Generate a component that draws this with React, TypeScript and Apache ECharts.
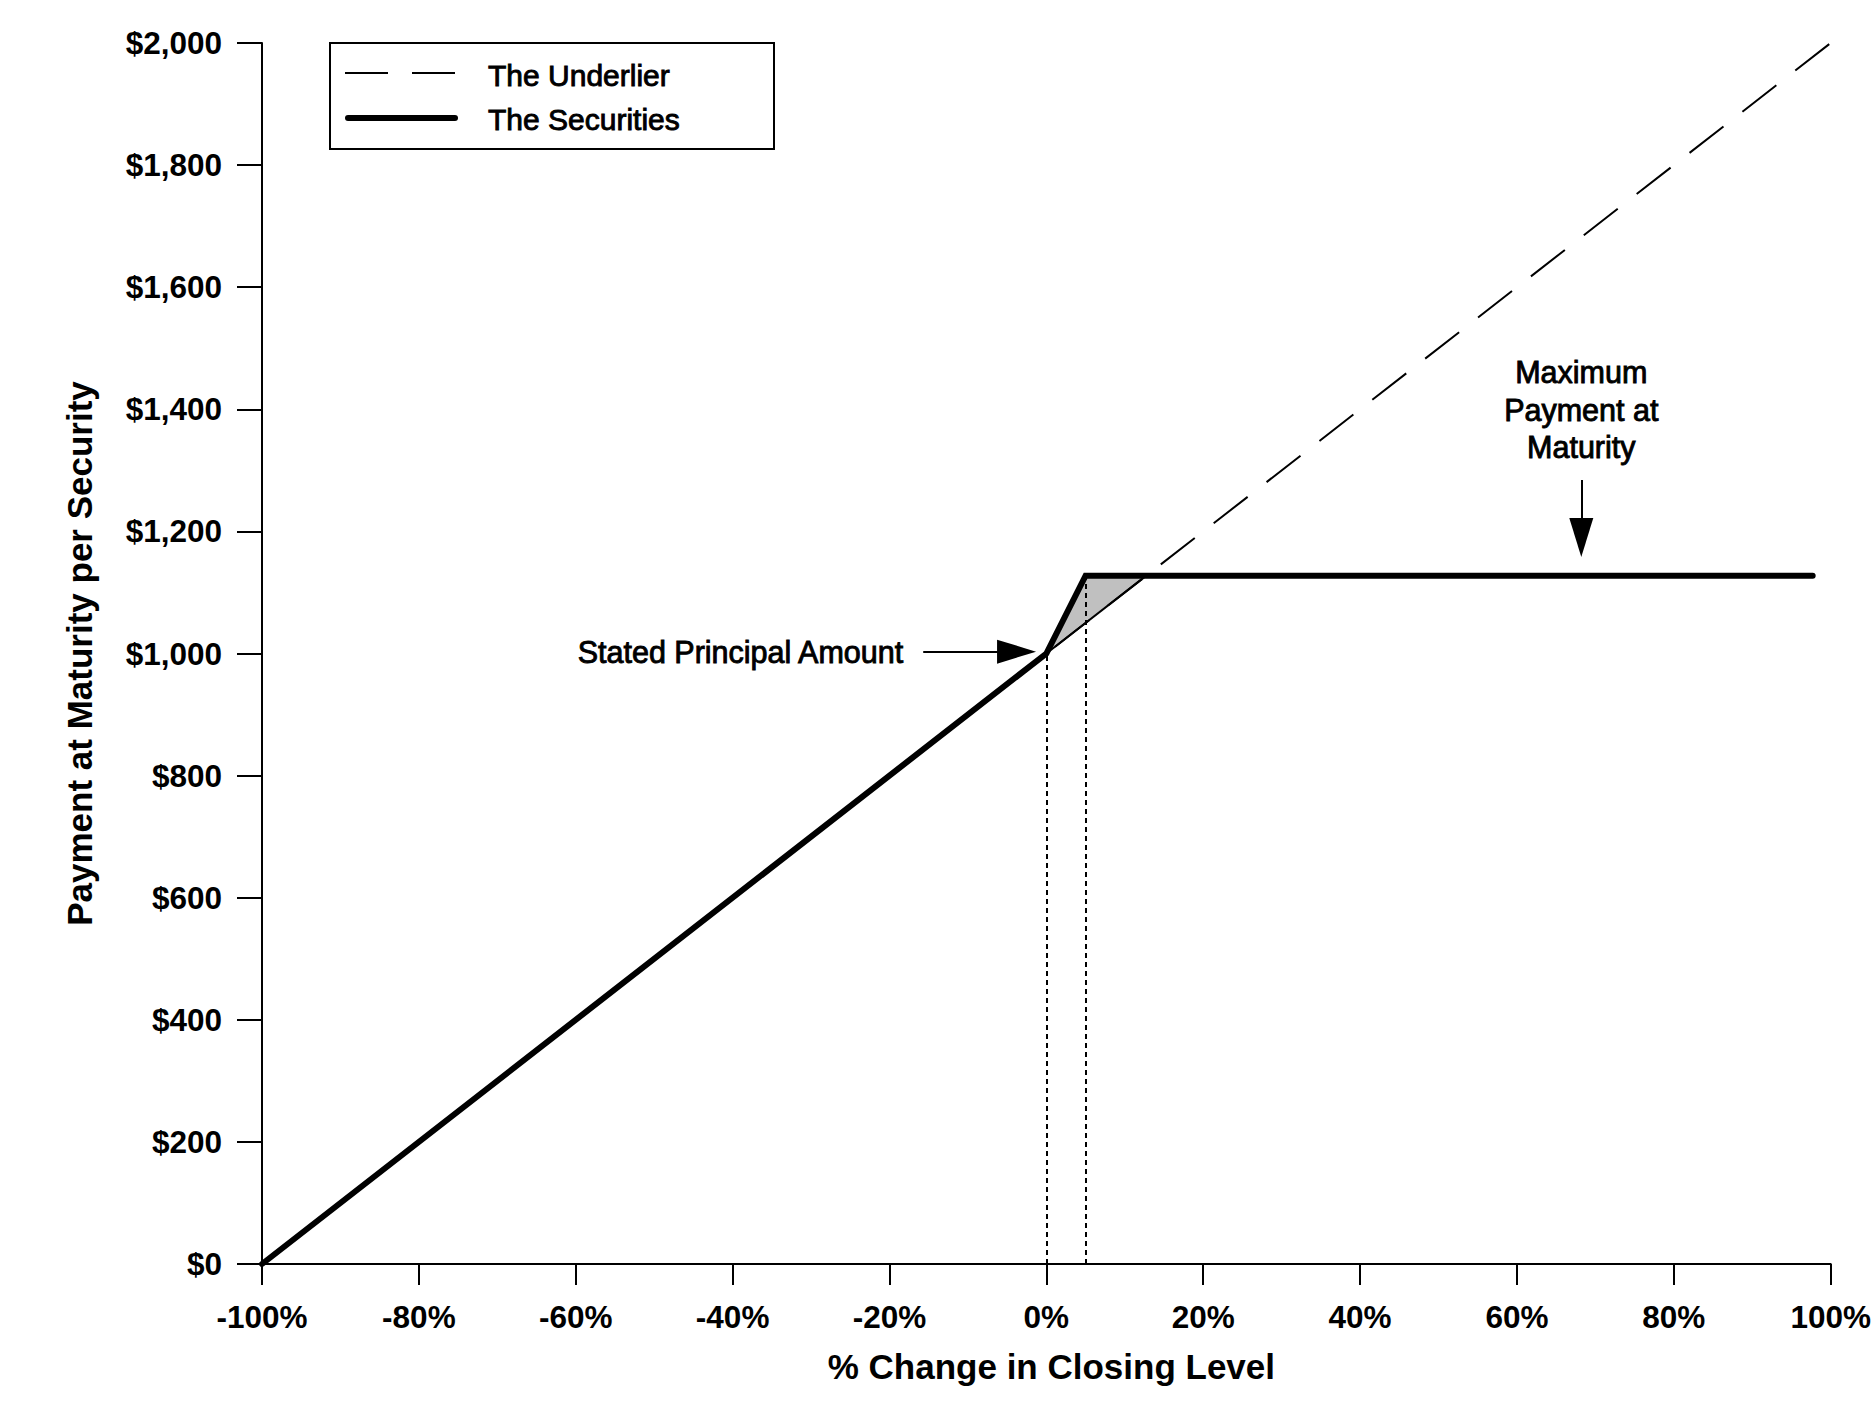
import React, { useEffect, useRef } from "react";
import * as echarts from "echarts";

// ---- data ----
const xAxisMin = -100;
const xAxisMax = 100;
const xAxisStep = 20;
const yAxisMin = 0;
const yAxisMax = 2000;
const yAxisStep = 200;

const underlierX = [-100, 100];
const underlierY = [0, 2000];

const securitiesX = [-100, 0, 5, 97.7];
const securitiesY = [0, 1000, 1127.5, 1127.5];

const shadeX = [0, 5, 12.75];
const shadeY = [1000, 1127.5, 1127.5];

const dottedX = [0, 5];
const dottedTop = [1000, 1127.5];

const seriesNames = ["The Underlier", "The Securities"];
const xTitle = "% Change in Closing Level";
const yTitle = "Payment at Maturity per Security";

const principalLabel = "Stated Principal Amount";
const principalArrowX = [-15.7, -3.8];
const principalArrowY = 1003;

const maxLabel = "Maximum\nPayment at\nMaturity";
const maxArrowX = 68.2;
const maxArrowY = [1284, 1190];

const FONT = '"Liberation Sans", Arial, Helvetica, sans-serif';

export default function App() {
  const ref = useRef<HTMLDivElement>(null);

  useEffect(() => {
    const chart = echarts.init(ref.current!, null, { renderer: "svg" });

    const shadeData = shadeX.map((x, i) => [x, shadeY[i]]);

    const legendText = (text: string, y: number) => ({
      type: "text",
      x: 488,
      y,
      style: {
        text,
        fontFamily: FONT,
        fontSize: 30,
        fill: "#000",
        stroke: "#000",
        lineWidth: 0.9,
        textVerticalAlign: "middle",
        verticalAlign: "middle",
      },
    });

    const option: any = {
      animation: false,
      backgroundColor: "#ffffff",
      grid: { left: 262, right: 32, top: 43, bottom: 146, containLabel: false },
      xAxis: {
        type: "value",
        min: xAxisMin,
        max: xAxisMax,
        interval: xAxisStep,
        name: xTitle,
        nameLocation: "middle",
        nameGap: 85,
        nameTextStyle: { fontFamily: FONT, fontSize: 35, fontWeight: "bold", color: "#000", padding: [0, 0, 0, 10] },
        axisLine: { show: true, onZero: false, lineStyle: { color: "#000", width: 2 } },
        axisTick: { show: true, inside: false, length: 21, lineStyle: { color: "#000", width: 2 } },
        axisLabel: {
          margin: 37,
          fontFamily: FONT,
          fontSize: 31.5,
          fontWeight: "bold",
          color: "#000",
          formatter: (v: number) => `${v}%`,
        },
        splitLine: { show: false },
      },
      yAxis: {
        type: "value",
        min: yAxisMin,
        max: yAxisMax,
        interval: yAxisStep,
        name: yTitle,
        nameLocation: "middle",
        nameRotate: 90,
        nameGap: 165,
        nameTextStyle: { fontFamily: FONT, fontSize: 35, fontWeight: "bold", color: "#000" },
        axisLine: { show: true, onZero: false, lineStyle: { color: "#000", width: 2 } },
        axisTick: { show: true, inside: false, length: 25, lineStyle: { color: "#000", width: 2 } },
        axisLabel: {
          margin: 40,
          fontFamily: FONT,
          fontSize: 31.5,
          fontWeight: "bold",
          color: "#000",
          formatter: (v: number) => "$" + v.toLocaleString("en-US"),
        },
        splitLine: { show: false },
      },
      graphic: [
        {
          type: "group",
          z: 100,
          children: [
            {
              type: "rect",
              shape: { x: 330, y: 43, width: 444, height: 106 },
              style: { fill: "#fff", stroke: "#000", lineWidth: 2 },
            },
            {
              type: "line",
              shape: { x1: 345, y1: 73, x2: 457, y2: 73 },
              style: { stroke: "#000", lineWidth: 2, lineDash: [43, 24] },
            },
            {
              type: "line",
              shape: { x1: 348, y1: 118, x2: 455, y2: 118 },
              style: { stroke: "#000", lineWidth: 6, lineCap: "round" },
            },
            legendText(seriesNames[0], 75),
            legendText(seriesNames[1], 119),
          ],
        },
      ],
      series: [
        {
          type: "custom",
          name: "shade",
          z: 1,
          silent: true,
          data: shadeData,
          renderItem: (params: any, api: any) => {
            if (params.dataIndex !== 0) return null;
            const pts = shadeData.map((p) => api.coord(p));
            return {
              type: "group",
              children: [
                { type: "polygon", shape: { points: pts }, style: { fill: "#c0c0c0", stroke: "none" } },
                {
                  type: "polyline",
                  shape: { points: [pts[0], pts[2]] },
                  style: { stroke: "#000", lineWidth: 2, fill: "none" },
                },
              ],
            };
          },
        },
        {
          type: "line",
          name: seriesNames[0],
          z: 2,
          silent: true,
          symbol: "none",
          data: underlierX.map((x, i) => [x, underlierY[i]]),
          lineStyle: { color: "#000", width: 2, type: [43, 24] },
          markLine: {
            silent: true,
            symbol: "none",
            label: { show: false },
            lineStyle: { color: "#000", width: 2, type: [5, 4] },
            data: dottedX.map((x, i) => [{ coord: [x, 0] }, { coord: [x, dottedTop[i]] }]),
          },
        },
        {
          type: "line",
          name: seriesNames[1],
          z: 3,
          silent: true,
          symbol: "none",
          data: securitiesX.map((x, i) => [x, securitiesY[i]]),
          lineStyle: { color: "#000", width: 6, cap: "round", join: "miter" },
          markLine: {
            silent: true,
            symbol: ["none", "triangle"],
            symbolSize: [24, 39],
            lineStyle: { color: "#000", width: 2, type: "solid" },
            data: [
              [
                {
                  coord: [principalArrowX[0], principalArrowY],
                  label: {
                    show: true,
                    position: "start",
                    distance: 20,
                    formatter: principalLabel,
                    fontFamily: FONT,
                    fontSize: 30.5,
                    color: "#000",
                    textBorderColor: "#000",
                    textBorderWidth: 0.9,
                  },
                },
                { coord: [principalArrowX[1], principalArrowY] },
              ],
              [
                {
                  coord: [maxArrowX, maxArrowY[0]],
                  label: {
                    show: true,
                    position: "start",
                    distance: 14,
                    formatter: maxLabel,
                    fontFamily: FONT,
                    fontSize: 30.5,
                    lineHeight: 37.5,
                    align: "center",
                    color: "#000",
                    textBorderColor: "#000",
                    textBorderWidth: 0.9,
                  },
                },
                { coord: [maxArrowX, maxArrowY[1]] },
              ],
            ],
          },
        },
      ],
    };

    chart.setOption(option);
    return () => chart.dispose();
  }, []);

  return (
    <div
      ref={ref}
      style={{ position: "fixed", left: 0, top: 0, width: 1874, height: 1410, background: "#fff" }}
    />
  );
}
